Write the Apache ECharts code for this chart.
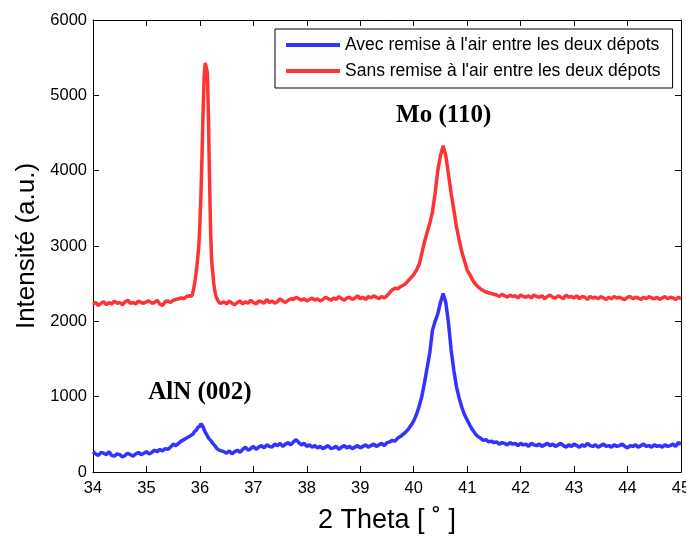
<!DOCTYPE html>
<html><head><meta charset="utf-8">
<script src="https://cdn.jsdelivr.net/npm/echarts@6/dist/echarts.min.js"></script>
<style>html,body{margin:0;padding:0;background:#fff}#c{width:686px;height:536px}</style>
</head><body><div id="c"></div>
<script>
// 2-theta sampling positions (degrees)
const theta = [
  34.00,34.05,34.10,34.15,34.20,34.25,34.30,34.35,34.40,34.45,
  34.50,34.55,34.60,34.65,34.70,34.75,34.80,34.85,34.90,34.95,
  35.00,35.05,35.10,35.15,35.20,35.25,35.30,35.35,35.40,35.45,
  35.50,35.55,35.60,35.65,35.70,35.75,35.80,
  35.82,35.84,35.86,35.88,35.90,35.92,35.94,35.96,35.98,36.00,
  36.02,36.04,36.06,36.08,36.10,36.12,36.14,36.16,36.18,36.20,
  36.22,36.24,36.26,36.28,36.30,36.32,36.34,36.36,36.38,36.40,
  36.45,36.50,36.55,36.60,36.65,36.70,36.75,36.80,36.85,36.90,36.95,
  37.00,37.05,37.10,37.15,37.20,37.25,37.30,37.35,37.40,37.45,
  37.50,37.55,37.60,37.65,37.70,37.75,37.80,37.85,37.90,37.95,
  38.00,38.05,38.10,38.15,38.20,38.25,38.30,38.35,38.40,38.45,
  38.50,38.55,38.60,38.65,38.70,38.75,38.80,38.85,38.90,38.95,
  39.00,39.05,39.10,39.15,39.20,39.25,39.30,39.35,39.40,39.45,
  39.50,39.55,39.60,39.65,39.70,39.75,39.80,39.85,39.90,39.95,
  40.00,40.05,40.10,40.15,40.20,40.25,40.30,40.35,40.40,40.45,
  40.50,40.55,40.60,40.65,40.70,40.75,40.80,40.85,40.90,40.95,
  41.00,41.05,41.10,41.15,41.20,41.25,41.30,41.35,41.40,41.45,
  41.50,41.55,41.60,41.65,41.70,41.75,41.80,41.85,41.90,41.95,
  42.00,42.05,42.10,42.15,42.20,42.25,42.30,42.35,42.40,42.45,
  42.50,42.55,42.60,42.65,42.70,42.75,42.80,42.85,42.90,42.95,
  43.00,43.05,43.10,43.15,43.20,43.25,43.30,43.35,43.40,43.45,
  43.50,43.55,43.60,43.65,43.70,43.75,43.80,43.85,43.90,43.95,
  44.00,44.05,44.10,44.15,44.20,44.25,44.30,44.35,44.40,44.45,
  44.50,44.55,44.60,44.65,44.70,44.75,44.80,44.85,44.90,44.95,
  45.00
];

// "Avec remise à l'air" (blue) intensities
const avecRemise = [
  270,240,220,260,250,230,270,220,210,240,
  230,200,220,250,230,210,240,260,230,250,
  270,240,260,290,270,300,280,310,300,330,
  370,350,380,410,430,450,470,
  460,490,480,510,540,530,560,590,580,610,
  640,620,600,560,530,520,480,450,460,420,
  410,380,390,350,340,310,320,290,300,280,
  270,250,280,240,270,290,260,300,330,290,310,
  340,300,330,350,320,360,340,330,370,350,
  380,340,370,390,360,400,430,390,360,380,
  340,360,330,350,320,340,310,330,350,310,
  320,340,300,330,350,320,340,310,330,350,
  320,340,360,330,350,370,340,360,380,350,
  390,400,420,410,450,470,500,530,570,620,
  680,760,870,1000,1180,1380,1580,1880,2000,2100,
  2250,2370,2250,1980,1620,1350,1130,980,860,760,
  690,620,560,510,470,450,420,430,400,410,
  390,400,370,390,380,360,390,370,380,350,
  380,360,370,340,380,360,350,370,340,360,
  380,350,370,340,360,380,350,330,360,340,
  370,350,330,360,340,380,350,340,360,330,
  350,370,340,350,330,360,340,350,370,340,
  320,350,340,360,330,350,370,340,350,330,
  360,340,350,330,360,340,350,370,340,390,
  370
];

// "Sans remise à l'air" (red) intensities
const sansRemise = [
  2230,2250,2210,2240,2260,2220,2250,2230,2270,2240,
  2250,2220,2260,2280,2240,2250,2230,2270,2250,2240,
  2260,2270,2240,2250,2280,2230,2210,2260,2270,2250,
  2280,2290,2300,2310,2300,2330,2340,
  2350,2330,2360,2420,2500,2600,2700,2850,3000,3300,
  3700,4200,4800,5250,5430,5450,5300,4700,3900,3200,
  2800,2650,2500,2400,2330,2300,2280,2250,2270,2240,
  2260,2230,2270,2240,2220,2250,2270,2230,2260,2240,2280,
  2250,2230,2270,2260,2240,2290,2250,2270,2240,2260,
  2300,2270,2250,2280,2300,2290,2320,2300,2280,2300,
  2270,2290,2310,2280,2300,2270,2290,2320,2300,2280,
  2310,2290,2330,2300,2280,2310,2320,2290,2310,2340,
  2300,2320,2290,2330,2310,2340,2320,2300,2330,2310,
  2340,2380,2420,2440,2430,2460,2480,2500,2540,2580,
  2620,2680,2750,2900,3050,3180,3300,3450,3700,4000,
  4200,4330,4200,3950,3700,3480,3250,3080,2920,2800,
  2680,2620,2550,2500,2460,2430,2410,2390,2380,2370,
  2360,2350,2330,2360,2340,2320,2350,2330,2340,2310,
  2350,2330,2320,2340,2310,2350,2330,2320,2340,2300,
  2330,2350,2320,2310,2340,2320,2300,2350,2320,2330,
  2310,2340,2300,2330,2320,2290,2330,2310,2320,2300,
  2330,2310,2290,2320,2300,2330,2310,2320,2300,2290,
  2320,2330,2300,2320,2310,2290,2320,2300,2330,2310,
  2300,2320,2290,2310,2330,2300,2320,2310,2290,2320,
  2300
];

const seriesNames = ["Avec remise à l'air entre les deux dépots", "Sans remise à l'air entre les deux dépots"];
const xRange = [34, 45], xStep = 1;
const yRange = [0, 6000], yStep = 1000;
const xTitle = "2 Theta [ ˚ ]";
const yTitle = "Intensité (a.u.)";
const peakLabels = [{ text: "AlN (002)", at: [36.0, 1060] }, { text: "Mo (110)", at: [40.56, 4730] }];

const SANS = "'Liberation Sans', Arial, sans-serif";
const SERIF = "'Liberation Serif', 'Times New Roman', serif";
const blue = '#3333ff', red = '#ff3333';

const chart = echarts.init(document.getElementById('c'), null, { renderer: 'canvas' });

function xAx(pos, labels) {
  return {
    type: 'value', position: pos, min: xRange[0], max: xRange[1], interval: xStep,
    axisLine: { show: true, onZero: false, lineStyle: { color: '#000', width: 1 } },
    axisTick: { show: true, inside: true, length: 6, lineStyle: { color: '#000' } },
    axisLabel: { show: labels, color: '#000', fontFamily: SANS, fontSize: 16.5, margin: 8,
      formatter: v => String(v) },
    splitLine: { show: false },
    name: labels ? xTitle : '', nameLocation: 'middle', nameGap: 35,
    nameTextStyle: { color: '#000', fontFamily: SANS, fontSize: 27 }
  };
}
function yAx(pos, labels) {
  return {
    type: 'value', position: pos, min: yRange[0], max: yRange[1], interval: yStep,
    axisLine: { show: true, onZero: false, lineStyle: { color: '#000', width: 1 } },
    axisTick: { show: true, inside: true, length: 6, lineStyle: { color: '#000' } },
    axisLabel: { show: labels, color: '#000', fontFamily: SANS, fontSize: 16.5, margin: 6,
      formatter: v => String(v) },
    splitLine: { show: false },
    name: labels ? yTitle : '', nameLocation: 'middle', nameGap: 46,
    nameTextStyle: { color: '#000', fontFamily: SANS, fontSize: 26 }
  };
}

function annot(p) {
  return {
    symbol: 'rect', symbolSize: 1, silent: true,
    itemStyle: { color: 'rgba(0,0,0,0)' },
    label: { show: true, position: 'inside', formatter: '{b}', color: '#000',
      fontFamily: SERIF, fontWeight: 'bold', fontSize: 25 },
    data: [{ name: p.text, coord: p.at }]
  };
}

chart.setOption({
  animation: false,
  backgroundColor: '#fff',
  grid: { left: 93, right: 5, top: 20, bottom: 64, containLabel: false, outerBoundsMode: 'none' },
  xAxis: [xAx('bottom', true), xAx('top', false)],
  yAxis: [yAx('left', true), yAx('right', false)],
  legend: {
    left: 275, top: 29, orient: 'vertical',
    data: seriesNames,
    icon: 'rect', itemWidth: 54, itemHeight: 4, itemGap: 8,
    padding: [7, 12, 8, 11],
    borderColor: '#000', borderWidth: 1, backgroundColor: '#fff',
    textStyle: { color: '#000', fontFamily: SANS, fontSize: 17.5, lineHeight: 17 }
  },
  series: [
    {
      name: seriesNames[0], type: 'line', xAxisIndex: 0, yAxisIndex: 0,
      data: theta.map((t, i) => [t, avecRemise[i]]),
      showSymbol: false, symbol: 'none',
      lineStyle: { color: blue, width: 3.5 }, itemStyle: { color: blue },
      markPoint: annot(peakLabels[0])
    },
    {
      name: seriesNames[1], type: 'line', xAxisIndex: 0, yAxisIndex: 0,
      data: theta.map((t, i) => [t, sansRemise[i]]),
      showSymbol: false, symbol: 'none',
      lineStyle: { color: red, width: 3.5 }, itemStyle: { color: red },
      markPoint: annot(peakLabels[1])
    }
  ]
});
</script>
</body></html>
